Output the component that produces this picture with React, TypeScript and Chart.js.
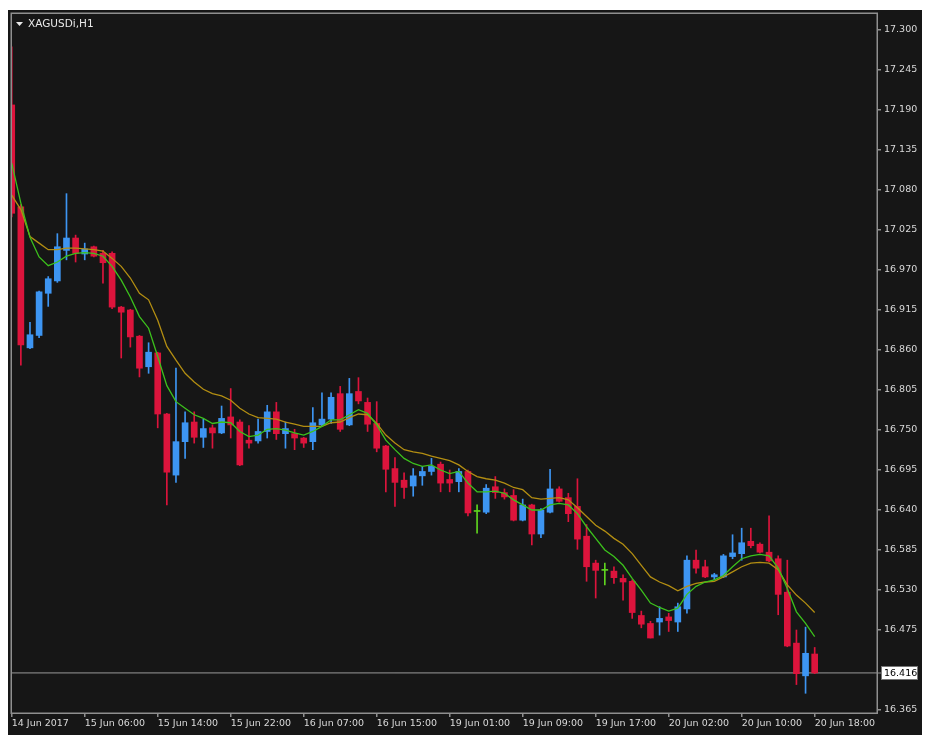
import React, { useEffect, useRef } from "react";
import { Chart, registerables } from "chart.js";

Chart.register(...registerables);

// ---- Data ----
const symbolTitle = "XAGUSDi,H1";

const opens = [
  17.197, 17.057, 16.863, 16.880, 16.938, 16.955, 16.997, 17.014, 16.992, 17.002,
  16.993, 16.993, 16.919, 16.915, 16.879, 16.837, 16.856, 16.772, 16.688, 16.734,
  16.761, 16.740, 16.753, 16.746, 16.768, 16.761, 16.736, 16.735, 16.748, 16.775,
  16.745, 16.745, 16.739, 16.734, 16.757, 16.765, 16.800, 16.757, 16.803, 16.788,
  16.759, 16.728, 16.697, 16.681, 16.673, 16.687, 16.693, 16.703, 16.682, 16.679,
  16.693, 16.638, 16.637, 16.672, 16.664, 16.660, 16.626, 16.647, 16.607, 16.637,
  16.669, 16.657, 16.645, 16.604, 16.567, 16.557, 16.556, 16.546, 16.542, 16.495,
  16.484, 16.486, 16.493, 16.486, 16.504, 16.571, 16.562, 16.548, 16.548, 16.576,
  16.580, 16.597, 16.593, 16.582, 16.573, 16.527, 16.457, 16.412, 16.442,
];
const highs = [
  17.277, 17.060, 16.898, 16.941, 16.961, 17.020, 17.075, 17.018, 17.007, 17.003,
  16.997, 16.995, 16.920, 16.916, 16.880, 16.870, 16.857, 16.773, 16.835, 16.775,
  16.775, 16.765, 16.757, 16.783, 16.807, 16.764, 16.756, 16.765, 16.784, 16.788,
  16.761, 16.751, 16.740, 16.781, 16.801, 16.801, 16.810, 16.821, 16.822, 16.794,
  16.789, 16.729, 16.712, 16.691, 16.697, 16.700, 16.711, 16.706, 16.695, 16.697,
  16.695, 16.647, 16.675, 16.686, 16.669, 16.668, 16.655, 16.648, 16.642, 16.696,
  16.672, 16.663, 16.683, 16.620, 16.571, 16.567, 16.562, 16.551, 16.544, 16.501,
  16.487, 16.507, 16.498, 16.512, 16.577, 16.585, 16.571, 16.553, 16.579, 16.606,
  16.615, 16.615, 16.595, 16.632, 16.577, 16.571, 16.475, 16.479, 16.451,
];
const lows = [
  17.043, 16.839, 16.862, 16.877, 16.920, 16.953, 16.984, 16.981, 16.984, 16.988,
  16.952, 16.917, 16.849, 16.864, 16.823, 16.828, 16.753, 16.647, 16.678, 16.711,
  16.732, 16.726, 16.725, 16.745, 16.739, 16.701, 16.725, 16.732, 16.739, 16.737,
  16.725, 16.723, 16.726, 16.723, 16.756, 16.759, 16.748, 16.756, 16.786, 16.748,
  16.720, 16.665, 16.645, 16.656, 16.659, 16.674, 16.688, 16.665, 16.665, 16.665,
  16.632, 16.608, 16.635, 16.656, 16.655, 16.625, 16.625, 16.592, 16.602, 16.636,
  16.651, 16.624, 16.586, 16.542, 16.519, 16.537, 16.539, 16.516, 16.491, 16.478,
  16.464, 16.468, 16.473, 16.473, 16.498, 16.553, 16.547, 16.544, 16.547, 16.573,
  16.571, 16.588, 16.581, 16.569, 16.496, 16.452, 16.400, 16.388, 16.415,
];
const closes = [
  17.048, 16.867, 16.881, 16.940, 16.958, 17.002, 17.014, 16.993, 16.999, 16.989,
  16.980, 16.919, 16.912, 16.878, 16.835, 16.857, 16.772, 16.692, 16.734, 16.760,
  16.740, 16.752, 16.746, 16.766, 16.757, 16.702, 16.732, 16.748, 16.775, 16.745,
  16.752, 16.739, 16.732, 16.760, 16.765, 16.795, 16.751, 16.800, 16.790, 16.758,
  16.725, 16.696, 16.678, 16.671, 16.687, 16.693, 16.700, 16.677, 16.677, 16.693,
  16.636, 16.638, 16.670, 16.664, 16.658, 16.626, 16.647, 16.607, 16.640, 16.669,
  16.652, 16.635, 16.600, 16.562, 16.557, 16.557, 16.547, 16.541, 16.499, 16.483,
  16.464, 16.491, 16.488, 16.507, 16.571, 16.560, 16.548, 16.551, 16.577, 16.581,
  16.595, 16.591, 16.582, 16.570, 16.524, 16.453, 16.415, 16.443, 16.416,
];
const maFast = [
  17.117, 17.062, 17.015, 16.988, 16.976, 16.981, 16.989, 16.993, 16.994, 16.993,
  16.989, 16.975, 16.956, 16.933, 16.906, 16.890, 16.851, 16.811, 16.789, 16.780,
  16.771, 16.766, 16.759, 16.761, 16.760, 16.748, 16.741, 16.743, 16.751, 16.752,
  16.750, 16.746, 16.743, 16.748, 16.755, 16.764, 16.764, 16.771, 16.778, 16.773,
  16.757, 16.736, 16.723, 16.711, 16.704, 16.700, 16.702, 16.695, 16.690, 16.693,
  16.677, 16.665, 16.665, 16.666, 16.663, 16.654, 16.647, 16.640, 16.640, 16.647,
  16.649, 16.647, 16.635, 16.617, 16.601, 16.585, 16.576, 16.564, 16.546, 16.530,
  16.512, 16.506, 16.501, 16.505, 16.524, 16.535, 16.541, 16.544, 16.550, 16.562,
  16.573, 16.577, 16.579, 16.577, 16.560, 16.532, 16.500, 16.484, 16.466,
];
const maSlow = [
  17.073, 17.053, 17.016, 17.007, 16.998, 16.998, 17.000, 17.000, 16.999, 16.998,
  16.996, 16.986, 16.975, 16.959, 16.938, 16.929, 16.901, 16.865, 16.846, 16.828,
  16.816, 16.806, 16.800, 16.797, 16.791, 16.780, 16.772, 16.767, 16.766, 16.765,
  16.761, 16.758, 16.755, 16.755, 16.755, 16.760, 16.761, 16.767, 16.772, 16.771,
  16.759, 16.743, 16.732, 16.723, 16.720, 16.718, 16.714, 16.711, 16.708, 16.702,
  16.693, 16.686, 16.683, 16.681, 16.677, 16.671, 16.668, 16.657, 16.655, 16.656,
  16.657, 16.654, 16.643, 16.631, 16.619, 16.611, 16.601, 16.593, 16.580, 16.564,
  16.548, 16.541, 16.536, 16.529, 16.535, 16.539, 16.541, 16.542, 16.548, 16.555,
  16.562, 16.567, 16.568, 16.567, 16.558, 16.537, 16.523, 16.512, 16.499,
];
const xTickIndex = [0, 8, 16, 24, 32, 40, 48, 56, 64, 72, 80, 88];
const xTickLabels = [
  "14 Jun 2017", "15 Jun 06:00", "15 Jun 14:00", "15 Jun 22:00",
  "16 Jun 07:00", "16 Jun 15:00", "19 Jun 01:00", "19 Jun 09:00",
  "19 Jun 17:00", "20 Jun 02:00", "20 Jun 10:00", "20 Jun 18:00",
];
const yTicks = [
  17.300, 17.245, 17.190, 17.135, 17.080, 17.025, 16.970, 16.915, 16.860,
  16.805, 16.750, 16.695, 16.640, 16.585, 16.530, 16.475, 16.365,
];
const currentPrice = 16.416;

// ---- Style ----
const BG = "#161616";
const FRAME = "#8f8f8f";
const TEXT = "#dadada";
const BULL = "#3d95f2";
const BEAR = "#dc143c";
const DOJI = "#5fd41f";
const FONT = "'DejaVu Sans', sans-serif";
const X_MIN = -0.08;
const X_MAX = 94.83;
const Y_MIN = 16.3609;
const Y_MAX = 17.3234;

const overlayPlugin = {
  id: "mtOverlay",
  afterDraw(chart: any) {
    const ctx = chart.ctx;
    const a = chart.chartArea;
    ctx.save();
    // frame
    ctx.strokeStyle = FRAME;
    ctx.lineWidth = 1.5;
    ctx.strokeRect(a.left + 0.25, a.top + 0.25, a.right - a.left, a.bottom - a.top);
    // title
    ctx.fillStyle = "#e8e8e8";
    ctx.beginPath();
    ctx.moveTo(a.left + 5, a.top + 9);
    ctx.lineTo(a.left + 12, a.top + 9);
    ctx.lineTo(a.left + 8.5, a.top + 13);
    ctx.closePath();
    ctx.fill();
    ctx.font = `10.5px ${FONT}`;
    ctx.textBaseline = "middle";
    ctx.textAlign = "left";
    ctx.fillText(symbolTitle, a.left + 17, a.top + 11);
    // current price label
    const y = chart.scales.y.getPixelForValue(currentPrice);
    ctx.fillStyle = FRAME;
    ctx.fillRect(a.right, Math.round(y) - 0.5, 4, 1);
    ctx.fillStyle = "#ffffff";
    ctx.fillRect(a.right + 4, Math.round(y) - 7, 37, 14);
    ctx.strokeStyle = "#777";
    ctx.lineWidth = 1;
    ctx.strokeRect(a.right + 4.5, Math.round(y) - 6.5, 36, 13);
    ctx.fillStyle = "#000";
    ctx.font = `9.5px ${FONT}`;
    ctx.fillText(currentPrice.toFixed(3), a.right + 7, Math.round(y) + 0.5);
    ctx.restore();
  },
};

export default function App() {
  const ref = useRef<HTMLCanvasElement | null>(null);

  useEffect(() => {
    if (!ref.current) return;
    const colors = closes.map((c, i) => (c > opens[i] ? BULL : c < opens[i] ? BEAR : DOJI));
    const idx = closes.map((_, i) => i);

    const chart = new Chart(ref.current, {
      type: "bar",
      data: {
        datasets: [
          {
            type: "line",
            data: maFast.map((v, i) => ({ x: idx[i], y: v })),
            borderColor: "#3cc11c",
            borderWidth: 1.3,
            pointRadius: 0,
            tension: 0,
            order: 0,
          } as any,
          {
            type: "line",
            data: maSlow.map((v, i) => ({ x: idx[i], y: v })),
            borderColor: "#b38e12",
            borderWidth: 1.3,
            pointRadius: 0,
            tension: 0,
            order: 1,
          } as any,
          {
            type: "bar",
            data: opens.map((o, i) => ({ x: idx[i], y: [o, closes[i]] })),
            backgroundColor: colors,
            barThickness: 6,
            minBarLength: 1,
            grouped: false,
            order: 2,
          } as any,
          {
            type: "bar",
            data: lows.map((l, i) => ({ x: idx[i], y: [l, highs[i]] })),
            backgroundColor: colors,
            barThickness: 1,
            grouped: false,
            order: 3,
          } as any,
          {
            type: "line",
            data: [
              { x: X_MIN, y: currentPrice },
              { x: X_MAX, y: currentPrice },
            ],
            borderColor: "#9a9a9a",
            borderWidth: 1,
            pointRadius: 0,
            order: 4,
          } as any,
        ],
      },
      options: {
        responsive: false,
        animation: false,
        devicePixelRatio: 1,
        layout: { padding: { left: 3, top: 3, right: 0, bottom: 0 } },
        plugins: { legend: { display: false }, tooltip: { enabled: false } },
        scales: {
          x: {
            type: "linear",
            position: "bottom",
            min: X_MIN,
            max: X_MAX,
            offset: false,
            grid: {
              display: true,
              offset: false,
              drawOnChartArea: false,
              drawTicks: true,
              tickLength: 4,
              color: FRAME,
              lineWidth: 1.5,
            },
            border: { display: false },
            ticks: {
              autoSkip: false,
              maxRotation: 0,
              minRotation: 0,
              align: "start",
              padding: 1,
              color: TEXT,
              font: { family: FONT, size: 9.5 },
              callback: (v: any) => {
                const k = xTickIndex.indexOf(Number(v));
                return k >= 0 ? xTickLabels[k] : "";
              },
            },
            afterBuildTicks: (s: any) => {
              s.ticks = xTickIndex.map((v) => ({ value: v }));
            },
            afterFit: (s: any) => {
              s.height = 22;
              s.paddingLeft = 0;
              s.paddingRight = 0;
            },
          },
          y: {
            type: "linear",
            position: "right",
            min: Y_MIN,
            max: Y_MAX,
            grid: {
              display: true,
              drawOnChartArea: false,
              drawTicks: true,
              tickLength: 4,
              color: FRAME,
              lineWidth: 1.5,
            },
            border: { display: false },
            ticks: {
              padding: 3,
              color: TEXT,
              font: { family: FONT, size: 9.5 },
              callback: (v: any) => Number(v).toFixed(3),
            },
            afterBuildTicks: (s: any) => {
              s.ticks = yTicks.map((v) => ({ value: v }));
            },
            afterFit: (s: any) => {
              s.width = 45;
              s.paddingTop = 0;
              s.paddingBottom = 0;
            },
          },
        },
      } as any,
      plugins: [overlayPlugin],
    });
    return () => chart.destroy();
  }, []);

  return (
    <div
      style={{
        position: "absolute",
        left: 8,
        top: 10,
        width: 914,
        height: 725,
        background: BG,
      }}
    >
      <canvas ref={ref} width={914} height={725} style={{ display: "block" }} />
    </div>
  );
}
